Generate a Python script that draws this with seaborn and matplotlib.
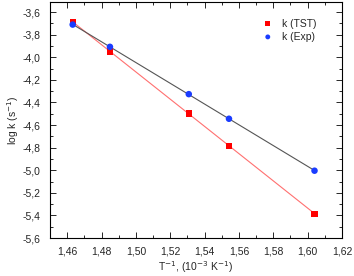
import numpy as np
import pandas as pd
import matplotlib
matplotlib.use('Agg')
import matplotlib.pyplot as plt
import seaborn as sns
from matplotlib.ticker import MultipleLocator, FuncFormatter

# data
inv_t = [1.4632, 1.4849, 1.5308, 1.5542, 1.6040]
log_k_tst = [-3.686, -3.949, -4.497, -4.783, -5.385]
log_k_exp = [-3.710, -3.907, -4.326, -4.544, -5.004]

df = pd.DataFrame({'x': inv_t, 'tst': log_k_tst, 'exp': log_k_exp})

sns.set_style('ticks')
plt.rcParams['font.family'] = ['Liberation Sans', 'DejaVu Sans']
fs = 7.5
plt.rcParams['font.size'] = fs

fig = plt.figure(figsize=(3.54, 2.76), dpi=100)
ax = fig.add_axes([50 / 354, 1 - 238 / 276, 292 / 354, 236 / 276])

# linear fits
sns.regplot(data=df, x='x', y='tst', scatter=False, ci=None, ax=ax,
            line_kws={'color': '#ff7070', 'lw': 0.8})
sns.regplot(data=df, x='x', y='exp', scatter=False, ci=None, ax=ax,
            line_kws={'color': '#555555', 'lw': 0.8})

sns.scatterplot(data=df, x='x', y='tst', marker='s', color='#ff0000', s=20,
                edgecolor='none', ax=ax, label='k (TST)', zorder=3)
sns.scatterplot(data=df, x='x', y='exp', marker='o', color='#1a3cff', s=22,
                edgecolor='none', ax=ax, label='k (Exp)', zorder=3)

ax.set_xlim(1.45, 1.62)
ax.set_ylim(-5.6, -3.51)
ax.xaxis.set_major_locator(MultipleLocator(0.02))
ax.xaxis.set_minor_locator(MultipleLocator(0.01))
ax.yaxis.set_major_locator(MultipleLocator(0.2))
ax.yaxis.set_minor_locator(MultipleLocator(0.1))
ax.xaxis.set_major_formatter(FuncFormatter(lambda v, p: f'{v:.2f}'.replace('.', ',')))
ax.yaxis.set_major_formatter(FuncFormatter(lambda v, p: f'{v:.1f}'.replace('.', ',')))
ax.tick_params(which='both', direction='in', top=True, right=True, width=0.7,
               labelsize=fs)
ax.tick_params(which='major', length=4)
ax.tick_params(which='minor', length=2)
ax.tick_params(axis='x', which='major', pad=6)
ax.tick_params(axis='y', which='major', pad=7)
for s in ax.spines.values():
    s.set_linewidth(0.8)
    s.set_color('black')

ax.set_xlabel('T$^{-1}$, (10$^{-3}$ K$^{-1}$)', fontsize=fs, labelpad=2)
ax.set_ylabel('log k (s$^{-1}$)', fontsize=fs, labelpad=1)

ax.legend(loc='upper left', bbox_to_anchor=(0.728, 0.93), frameon=False,
          fontsize=fs, handlelength=1.0, handletextpad=0.87, borderpad=0,
          borderaxespad=0, markerscale=0.75, labelspacing=0.3)

fig.savefig('out.png', dpi=100)
